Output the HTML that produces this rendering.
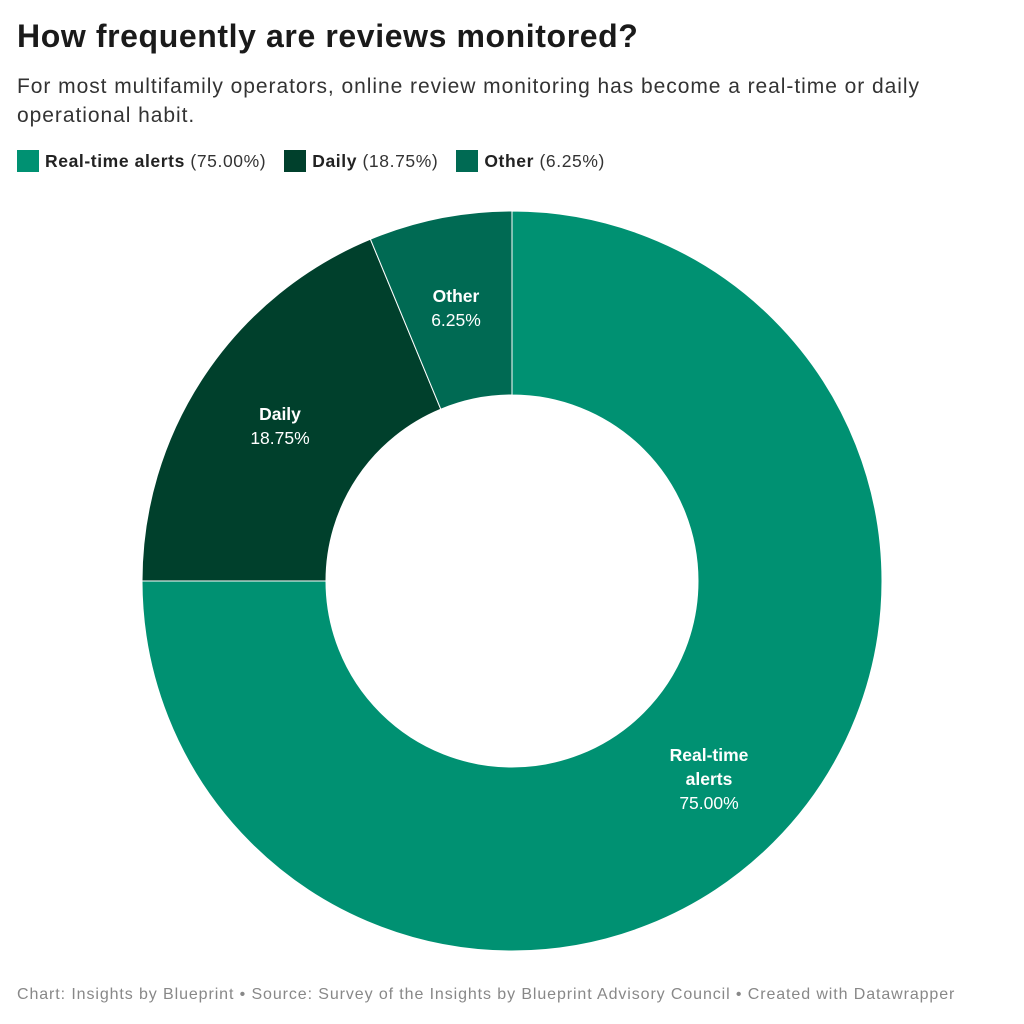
<!DOCTYPE html>
<html><head><meta charset="utf-8"><style>
body{margin:0;width:1024px;height:1024px;background:#fff;font-family:"Liberation Sans",sans-serif;position:relative;overflow:hidden}
.t{position:absolute;left:17px;top:18px;font-size:32px;font-weight:bold;color:#1a1a1a;letter-spacing:0.6px}
.s{position:absolute;left:17px;top:72px;font-size:21px;line-height:29px;color:#333;width:960px;letter-spacing:0.95px}
.l{position:absolute;left:17px;top:150px;font-size:17.5px;color:#333;display:flex;align-items:center;letter-spacing:0.6px}
.l span.sw{display:inline-block;width:22px;height:22px;margin-right:6px}
.l b{color:#222}
.l .i{margin-right:18px;display:flex;align-items:center}
.f{position:absolute;left:17px;top:986px;font-size:16px;color:#888;letter-spacing:0.9px}
</style></head><body>
<div class="t">How frequently are reviews monitored?</div>
<div class="s">For most multifamily operators, online review monitoring has become a real-time or daily<br>operational habit.</div>
<div class="l"><div class="i"><span class="sw" style="background:#009172"></span><b>Real-time alerts</b>&nbsp;(75.00%)</div><div class="i"><span class="sw" style="background:#00402c"></span><b>Daily</b>&nbsp;(18.75%)</div><div class="i"><span class="sw" style="background:#006a53"></span><b>Other</b>&nbsp;(6.25%)</div></div>
<svg width="1024" height="1024" style="position:absolute;left:0;top:0">
<g stroke="#fff" stroke-width="1">
<path d="M512,211 A370,370 0 1 1 142,581 L326,581 A186,186 0 1 0 512,395 Z" fill="#009172"/>
<path d="M142,581 A370,370 0 0 1 370.4,239.2 L440.8,409.2 A186,186 0 0 0 326,581 Z" fill="#00402c"/>
<path d="M370.4,239.2 A370,370 0 0 1 512,211 L512,395 A186,186 0 0 0 440.8,409.2 Z" fill="#006a53"/>
</g>
<g fill="#fff" font-family="Liberation Sans,sans-serif" font-size="17.5" text-anchor="middle">
<text x="456" y="302" font-weight="bold">Other</text><text x="456" y="326">6.25%</text>
<text x="280" y="420" font-weight="bold">Daily</text><text x="280" y="444">18.75%</text>
<text x="709" y="761" font-weight="bold">Real-time</text><text x="709" y="785" font-weight="bold">alerts</text><text x="709" y="809">75.00%</text>
</g>
</svg>
<div class="f">Chart: Insights by Blueprint • Source: Survey of the Insights by Blueprint Advisory Council • Created with Datawrapper</div>
</body></html>
